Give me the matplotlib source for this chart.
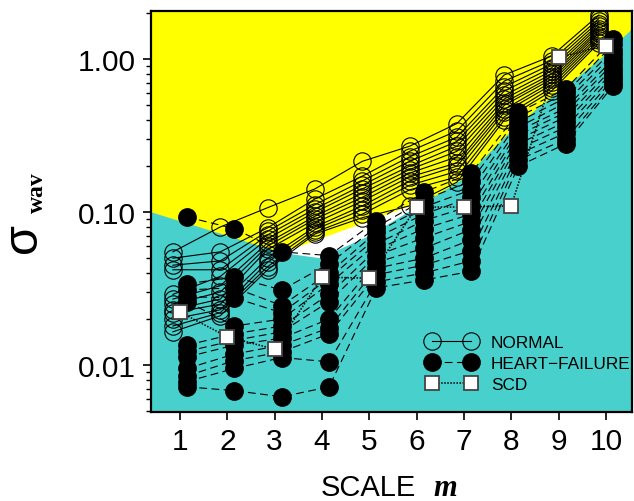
import matplotlib
matplotlib.use('Agg')
import matplotlib.pyplot as plt
import numpy as np
from matplotlib.lines import Line2D
from matplotlib.ticker import FixedLocator, NullFormatter, LogLocator

# ---------------- data ----------------
scales = [1, 2, 3, 4, 5, 6, 7, 8, 9, 10]

# NORMAL subjects (open circles), values at each scale (sorted high -> low)
normal_m1 = [0.055, 0.050, 0.045, 0.042, 0.029, 0.027, 0.025, 0.023, 0.022, 0.020, 0.018, 0.0165]
normal_m2 = [0.080, 0.055, 0.048, 0.042, 0.038, 0.033, 0.030, 0.027, 0.025, 0.023, 0.022, 0.021]
normal_m3 = [0.107, 0.079, 0.075, 0.071, 0.067, 0.063, 0.060, 0.057, 0.050, 0.047, 0.044, 0.042]
normal_m4 = [0.142, 0.122, 0.112, 0.105, 0.100, 0.094, 0.090, 0.085, 0.080, 0.077, 0.074, 0.072]
normal_m5 = [0.215, 0.172, 0.160, 0.150, 0.142, 0.133, 0.125, 0.118, 0.110, 0.104, 0.097, 0.092]
normal_m6 = [0.270, 0.250, 0.230, 0.215, 0.200, 0.190, 0.180, 0.170, 0.160, 0.150, 0.140, 0.110]
normal_m7 = [0.380, 0.340, 0.310, 0.290, 0.270, 0.250, 0.230, 0.210, 0.200, 0.185, 0.170, 0.157]
normal_m8 = [0.790, 0.720, 0.660, 0.620, 0.580, 0.550, 0.520, 0.500, 0.470, 0.450, 0.420, 0.400]
normal_m9 = [1.050, 0.980, 0.930, 0.880, 0.840, 0.800, 0.770, 0.740, 0.710, 0.680, 0.650, 0.620]
normal_m10 = [1.950, 1.850, 1.770, 1.700, 1.640, 1.580, 1.530, 1.480, 1.430, 1.380, 1.330, 1.280]

# HEART-FAILURE patients (filled circles)
hf_m1 = [0.093, 0.034, 0.031, 0.028, 0.026, 0.0135, 0.0123, 0.0113, 0.0095, 0.0085, 0.0078, 0.0072]
hf_m2 = [0.078, 0.0376, 0.032, 0.0275, 0.018, 0.016, 0.0145, 0.0135, 0.0118, 0.0107, 0.0095, 0.0068]
hf_m3 = [0.055, 0.031, 0.0245, 0.022, 0.020, 0.018, 0.0165, 0.015, 0.0135, 0.0122, 0.0112, 0.0062]
hf_m4 = [0.052, 0.046, 0.040, 0.037, 0.034, 0.029, 0.026, 0.020, 0.0175, 0.016, 0.0105, 0.0072]
hf_m5 = [0.088, 0.080, 0.074, 0.068, 0.062, 0.057, 0.052, 0.047, 0.043, 0.039, 0.035, 0.032]
hf_m6 = [0.135, 0.120, 0.108, 0.097, 0.088, 0.078, 0.068, 0.058, 0.050, 0.045, 0.040, 0.036]
hf_m7 = [0.180, 0.160, 0.140, 0.125, 0.110, 0.097, 0.087, 0.077, 0.066, 0.056, 0.048, 0.041]
hf_m8 = [0.450, 0.420, 0.390, 0.360, 0.340, 0.320, 0.300, 0.280, 0.260, 0.240, 0.220, 0.200]
hf_m9 = [0.640, 0.600, 0.560, 0.520, 0.480, 0.450, 0.420, 0.390, 0.360, 0.330, 0.300, 0.280]
hf_m10 = [1.350, 1.250, 1.150, 1.080, 1.000, 0.940, 0.880, 0.830, 0.780, 0.740, 0.700, 0.670]

# SCD patient (squares)
scd = [0.0222, 0.0153, 0.0127, 0.0376, 0.037, 0.108, 0.108, 0.110, 1.03, 1.23]

# region boundaries (scale, sigma)
cyan_x = [0.387, 3.176, 3.958, 4.951, 5.859, 6.979, 7.972, 8.606, 9.303, 9.874, 10.55]
cyan_y = [0.100, 0.054, 0.050, 0.0687, 0.1015, 0.164, 0.333, 0.493, 0.718, 1.00, 1.57]
white_x = [3.176, 5.80, 5.86, 5.86, 3.176]
white_y = [0.0545, 0.108, 0.1015, 0.006, 0.006]

tick_labels_y = ['0.01', '0.10', '1.00']
legend_labels = ['NORMAL', 'HEART\u2212FAILURE', 'SCD']

normal_cols = [normal_m1, normal_m2, normal_m3, normal_m4, normal_m5,
               normal_m6, normal_m7, normal_m8, normal_m9, normal_m10]
hf_cols = [hf_m1, hf_m2, hf_m3, hf_m4, hf_m5, hf_m6, hf_m7, hf_m8, hf_m9, hf_m10]

# ---------------- figure ----------------
plt.rcParams['font.family'] = ['Liberation Sans', 'DejaVu Sans']
fig = plt.figure(figsize=(6.34, 5.02), dpi=100)
ax = fig.add_axes([151/634, 1-413/502, (632-151)/634, (413-12)/502])

YEL = '#FFFF00'
CYAN = '#48D1CC'
ax.set_facecolor(YEL)
ax.fill(white_x, white_y, color='white', zorder=0.3, lw=0)
ax.fill_between(cyan_x, cyan_y, 1e-4, color=CYAN, zorder=0.5, lw=0)

xs = np.array(scales, dtype=float)
n_norm = len(normal_m1)
for i in range(n_norm):
    ys = [col[i] for col in normal_cols]
    ax.plot(xs - 0.15, ys, color='black', lw=0.8, marker='o', ms=12.5,
            mfc='none', mec='black', mew=0.8, zorder=2)
n_hf = len(hf_m1)
for i in range(n_hf):
    ys = [col[i] for col in hf_cols]
    ax.plot(xs + 0.15, ys, color='black', lw=0.8, dashes=(7, 4), marker='o',
            ms=12.5, mfc='black', mec='black', zorder=3)
ax.plot(xs, scd, color='black', lw=1.1, dashes=(1, 1), marker='s', ms=10,
        mfc='white', mec='#444444', mew=1.3, zorder=4)

ax.set_yscale('log')
ax.set_ylim(0.00493, 2.07)
ax.set_xlim(0.387, 10.55)
ax.set_xticks(scales)
ax.set_xticklabels([str(s) for s in scales])
ax.yaxis.set_major_locator(FixedLocator([0.01, 0.1, 1.0]))
ax.set_yticklabels(tick_labels_y)
ax.yaxis.set_minor_locator(LogLocator(base=10, subs=np.arange(2, 10)))
ax.yaxis.set_minor_formatter(NullFormatter())
ax.tick_params(axis='both', which='major', direction='out', length=6, width=1.2,
               labelsize=21.5, pad=5)
ax.tick_params(axis='y', which='minor', direction='out', length=3.5, width=1.0)
ax.tick_params(axis='x', which='minor', bottom=False)
for s in ax.spines.values():
    s.set_linewidth(1.6)

# legend
h_norm = Line2D([], [], color='black', lw=0.8, marker='o', ms=12.5, mfc='none',
                mec='black', mew=0.8)
h_hf = Line2D([], [], color='black', lw=0.8, dashes=(7, 4), marker='o', ms=12.5,
              mfc='black', mec='black')
h_scd = Line2D([], [], color='black', lw=1.1, dashes=(1, 1), marker='s', ms=10,
               mfc='white', mec='#444444', mew=1.3)
leg = ax.legend([h_norm, h_hf, h_scd], legend_labels, loc='upper left',
                bbox_to_anchor=((426.8-151)/481, 1-(336-12)/401), frameon=False,
                fontsize=12.4, numpoints=2, handlelength=2.87, handletextpad=0.86,
                labelspacing=0.33, borderpad=0, borderaxespad=0)

# axis labels
fig.text(368/634, 1-496/502, 'SCALE', fontsize=21, ha='center', va='baseline')
fig.text(445/634, 1-496/502, 'm', fontsize=22, ha='center', va='baseline',
         family='Liberation Serif', style='italic', weight='bold')
fig.text(24/634, 1-238/502, '\u03c3', fontsize=35, rotation=90,
         ha='center', va='center')
fig.text(37/634, 1-193/502, 'wav', fontsize=17, rotation=90, ha='center',
         va='center', family='Liberation Serif', weight='bold')

fig.savefig('out.png', dpi=100)
